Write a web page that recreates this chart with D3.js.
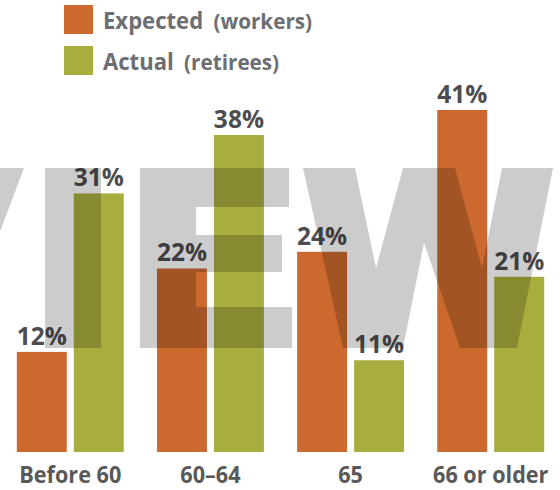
<!DOCTYPE html>
<html>
<head>
<meta charset="utf-8">
<script src="https://cdn.jsdelivr.net/npm/d3@7"></script>
<style>
  html, body { margin: 0; padding: 0; background: #fff; }
  svg { display: block; font-family: "Open Sans", sans-serif; font-weight: bold; }
</style>
</head>
<body>
<div id="chart"></div>
<script>
// retirement age: expected by workers vs actual for retirees (%)
var categories = ["Before 60", "60\u201364", "65", "66 or older"];
var seriesNames = ["Expected", "Actual"];
var seriesNotes = ["(workers)", "(retirees)"];
var expected = [12, 22, 24, 41];
var actual = [31, 38, 11, 21];

var colors = ["#CC692E", "#A8AE3E"];

var width = 560, height = 490,
    baseline = 452;

var svg = d3.select("#chart").append("svg")
    .attr("width", width)
    .attr("height", height);

var rows = categories.map(function (c, i) {
    return { cat: c, values: [expected[i], actual[i]] };
});

// scales
var x0 = d3.scaleBand()
    .domain(categories)
    .range([0, 561])
    .paddingInner(0.237)
    .paddingOuter(0.12);

var x1 = d3.scaleBand()
    .domain(d3.range(seriesNames.length))
    .range([0, x0.bandwidth()])
    .paddingInner(0.123);

var y = d3.scaleLinear()
    .domain([0, d3.max(expected.concat(actual))])
    .range([baseline, 110]);

// bars
var groups = svg.append("g").selectAll("g")
    .data(rows)
    .enter().append("g")
    .attr("transform", function (d) { return "translate(" + x0(d.cat) + ",0)"; });

groups.selectAll("rect")
    .data(function (d) { return d.values; })
    .enter().append("rect")
    .attr("x", function (d, i) { return x1(i); })
    .attr("y", function (d) { return y(d); })
    .attr("width", x1.bandwidth())
    .attr("height", function (d) { return baseline - y(d); })
    .attr("fill", function (d, i) { return colors[i]; });

// big grey "PREVIEW" watermark, drawn over the bars
var mark = svg.append("g").attr("fill", "#000").attr("fill-opacity", 0.2);
mark.append("path").attr("d", "M-80,168 L24,168 L-44,348 L-80,348 Z");
mark.append("path").attr("d", "M45,168 H101 V348 H45 Z");
mark.append("path").attr("d",
    "M140,168 H289 V207 H196 V235 H282 V272 H196 V307 H292 V348 H140 Z");
mark.append("path").attr("d",
    "M303,168 L355,168 L376,268 L403,168 L455,168 L482,268 L502,168 L553,168 " +
    "L517,348 L460,348 L424,243 L403,348 L343,348 Z");

// value labels
groups.selectAll("text.value")
    .data(function (d) { return d.values; })
    .enter().append("text")
    .attr("class", "value")
    .attr("text-anchor", "middle")
    .attr("transform", function (d, i) {
        return "translate(" + (x1(i) + x1.bandwidth() / 2) + "," + (y(d) - 7) + ") scale(0.98,1)";
    })
    .attr("font-size", 25)
    .attr("fill", "#4d4d4f")
    .text(function (d) { return d + "%"; });

// category labels
svg.append("g").selectAll("text")
    .data(categories)
    .enter().append("text")
    .attr("text-anchor", "middle")
    .attr("transform", function (d) {
        return "translate(" + (x0(d) + x0.bandwidth() / 2) + ",483) scale(0.94,1)";
    })
    .attr("font-size", 23)
    .attr("fill", "#595959")
    .text(function (d) { return d; });

// legend
var legend = svg.append("g").selectAll("g")
    .data(seriesNames)
    .enter().append("g")
    .attr("transform", function (d, i) { return "translate(64," + (5 + i * 41) + ")"; });

legend.append("rect")
    .attr("width", 29)
    .attr("height", 29)
    .attr("fill", function (d, i) { return colors[i]; });

var lt = legend.append("text")
    .attr("transform", "translate(39,23.5) scale(0.94,1)")
    .attr("fill", "#6d6e71");
lt.append("tspan")
    .attr("font-size", 23.5)
    .text(function (d) { return d; });
lt.append("tspan")
    .attr("font-size", 22)
    .attr("dx", 11)
    .text(function (d, i) { return seriesNotes[i]; });
</script>
</body>
</html>
